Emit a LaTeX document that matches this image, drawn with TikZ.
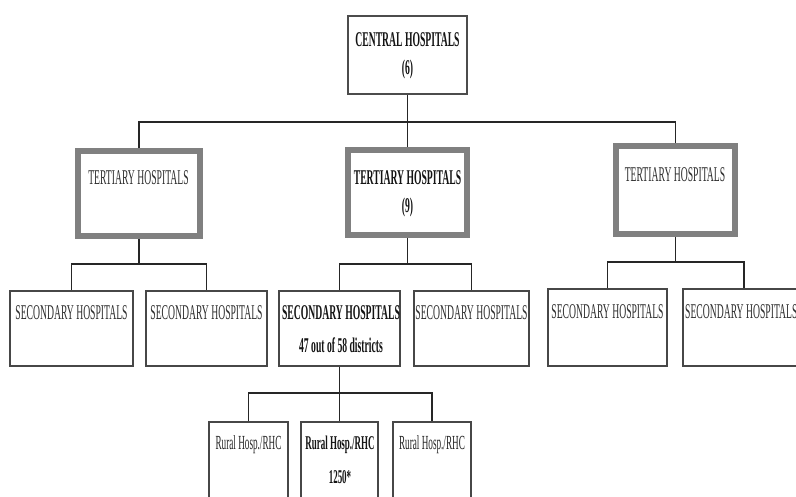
\documentclass[tikz,border=0pt]{standalone}
\usepackage{fontspec}
\setmainfont{Liberation Serif}
\newfontfamily\cf[FakeStretch=0.46]{Liberation Serif}
\begin{document}
\begin{tikzpicture}[x=1pt,y=-1pt,
  conn/.style={draw=black!85, line width=1.8pt},
  cbox/.style={draw=black!70, line width=2pt, fill=white, inner sep=0pt},
  tbox/.style={draw=black!50, line width=6pt, fill=white, inner sep=0pt},
  sbox/.style={draw=black!72, line width=2pt, fill=white, inner sep=0pt},
  txt/.style={font=\cf\fontsize{21}{24}\selectfont, text=black!82, inner sep=0pt},
  btxt/.style={font=\cf\bfseries\fontsize{21}{24}\selectfont, text=black!92, inner sep=0pt},
  rtxt/.style={font=\cf\fontsize{20}{24}\selectfont, text=black!85, inner sep=0pt},
  rbtxt/.style={font=\cf\bfseries\fontsize{19.5}{24}\selectfont, text=black!92, inner sep=0pt}]
\useasboundingbox (0,0) rectangle (796,496);
\clip (0,0) rectangle (796,496);
\fill[white] (0,0) rectangle (796,496);

% boxes
\node[cbox, minimum width=119pt, minimum height=78pt] (central) at (407.5,55) {};
\node[tbox, minimum width=122pt, minimum height=85pt] (tl) at (139,193.5) {};
\node[tbox, minimum width=119pt, minimum height=85pt] (tm) at (407.5,192.5) {};
\node[tbox, minimum width=119pt, minimum height=88pt] (tr) at (675.5,190) {};
\node[sbox, minimum width=123pt, minimum height=75pt] (s1) at (71.5,328.5) {};
\node[sbox, minimum width=121pt, minimum height=75pt] (s2) at (206.5,328.5) {};
\node[sbox, minimum width=121pt, minimum height=75pt] (s3) at (339.5,328.5) {};
\node[sbox, minimum width=115pt, minimum height=75pt] (s4) at (471.5,328.5) {};
\node[sbox, minimum width=119pt, minimum height=77pt] (s5) at (607.5,327.5) {};
\node[sbox, minimum width=122pt, minimum height=77pt] (s6) at (744,327.5) {};
\node[sbox, minimum width=79pt, minimum height=87pt] (r1) at (248.5,465.5) {};
\node[sbox, minimum width=77pt, minimum height=87pt] (r2) at (339.5,465.5) {};
\node[sbox, minimum width=78pt, minimum height=87pt] (r3) at (432,465.5) {};

% bus coordinates
\coordinate (b1) at (407.5,122);
\coordinate (b2) at (139,264);
\coordinate (b3) at (407.5,264);
\coordinate (b4) at (675.5,262);
\coordinate (b5) at (339.5,393);

% connectors
\draw[conn] (central.south) -- (tm.north);
\draw[conn] (tl.north) |- (b1) -| (tr.north);
\draw[conn] (tl.south) -- (b2);
\draw[conn] (s1.north) |- (b2) -| (s2.north);
\draw[conn] (tm.south) -- (b3);
\draw[conn] (s3.north) |- (b3) -| (s4.north);
\draw[conn] (tr.south) -- (b4);
\draw[conn] (s5.north) |- (b4) -| (s6.north);
\draw[conn] (s3.south) -- (r2.north);
\draw[conn] (r1.north) |- (b5) -| (r3.north);

% texts
\node[btxt] (tc1) at (407.5,40) {CENTRAL HOSPITALS};
\node[btxt] (tc2) at (407.5,69) {(6)};
\node[txt] (ttl) at (138.5,178) {TERTIARY HOSPITALS};
\node[btxt] (ttm1) at (407.5,178) {TERTIARY HOSPITALS};
\node[btxt] (ttm2) at (407.5,207) {(9)};
\node[txt] (ttr) at (675,175) {TERTIARY HOSPITALS};
\node[txt] (ts1) at (71.5,313) {SECONDARY HOSPITALS};
\node[txt] (ts2) at (206.5,313) {SECONDARY HOSPITALS};
\node[btxt] (ts3a) at (341,313) {SECONDARY HOSPITALS};
\node[btxt] (ts3b) at (341,345) {47 out of 58 districts};
\node[txt] (ts4) at (471.5,313) {SECONDARY HOSPITALS};
\node[txt] (ts5) at (607.5,312) {SECONDARY HOSPITALS};
\node[txt, anchor=west] (ts6) at (685,312) {SECONDARY HOSPITALS};
\node[rtxt] (tr1) at (248.5,445) {Rural Hosp./RHC};
\node[rbtxt] (tr2a) at (340,445) {Rural Hosp./RHC};
\node[rbtxt] (tr2b) at (340,477) {1250*};
\node[rtxt] (tr3) at (432,445) {Rural Hosp./RHC};
\end{tikzpicture}
\end{document}
